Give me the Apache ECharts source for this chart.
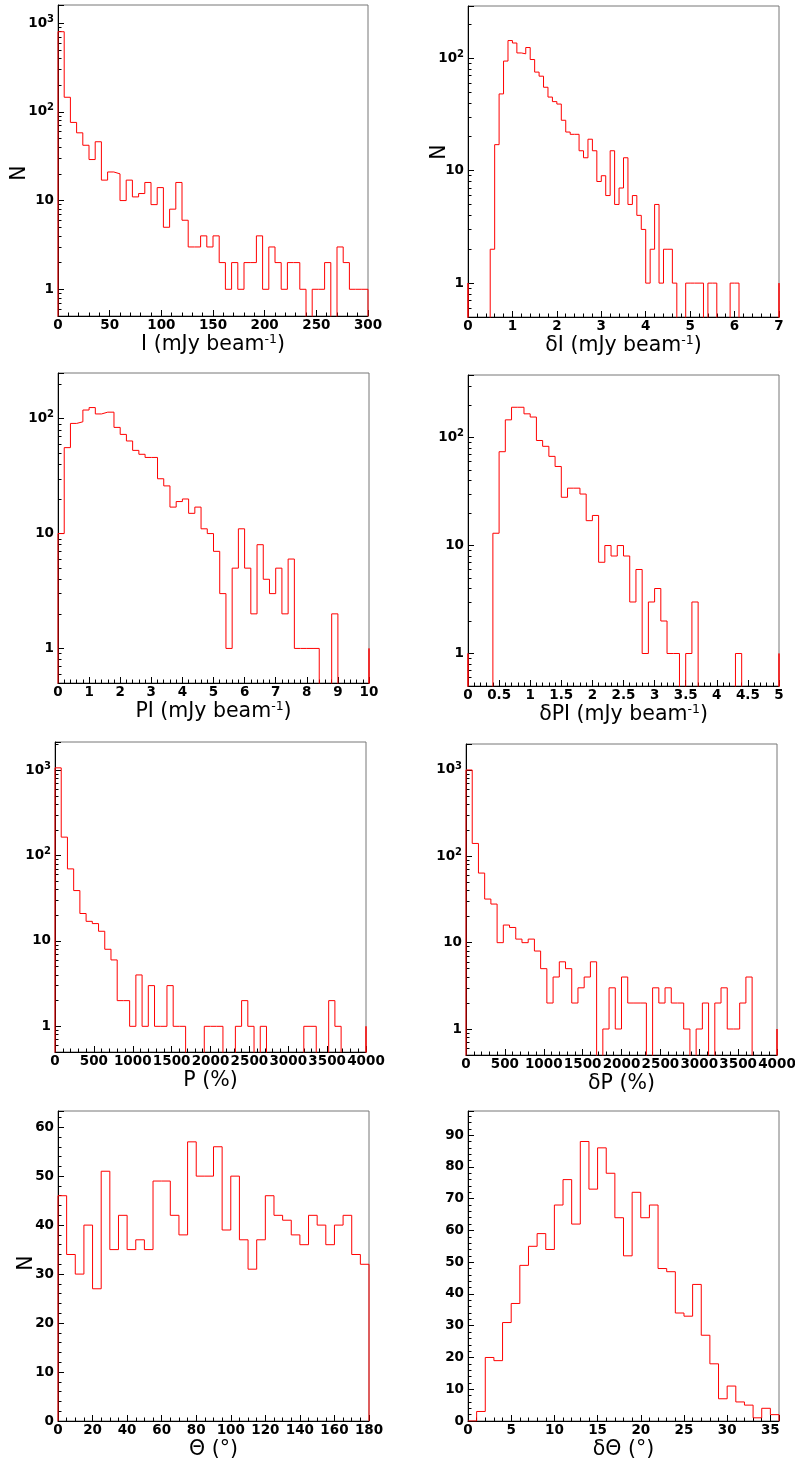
<!DOCTYPE html>
<html>
<head>
<meta charset="utf-8">
<title>histograms</title>
<script src="https://cdn.jsdelivr.net/npm/echarts@6/dist/echarts.min.js"></script>
<style>
  html, body { margin: 0; padding: 0; background: #fff; }
  #chart { width: 795px; height: 1466px; }
</style>
</head>
<body>
<div id="chart"></div>
<script>
// bin contents, low edge + bin width for each
var iBin = [0, 6];
var iCounts = [800, 146, 76, 58, 42, 29, 46, 17, 21, 20, 10, 17, 11, 12, 16, 9, 14, 5, 8, 16,
  6, 3, 3, 4, 3, 4, 2, 1, 2, 1, 2, 2, 4, 1, 3, 2, 1, 2, 2, 1, 0, 1, 1, 2, 0, 3, 2, 1, 1, 1];

var dIBin = [0, 0.1];
var dICounts = [0, 0, 0, 0, 0, 2, 17, 48, 94, 143, 136, 111, 109, 124, 97, 75, 69, 55, 45, 41,
  39, 28, 22, 21, 21, 15, 13, 19, 15, 8, 9, 6, 15, 5, 7, 13, 5, 6, 4, 3,
  1, 2, 5, 1, 2, 2, 1, 0, 0, 1, 1, 1, 1, 0, 1, 1, 0, 0, 0, 1, 1, 0, 0, 0, 0, 0, 0, 0, 0, 0];

var piBin = [0, 0.2];
var piCounts = [10, 56, 91, 94, 119, 125, 110, 114, 114, 84, 73, 64, 53, 49, 46, 46, 30, 26, 17, 19,
  20, 15, 17, 11, 10, 7, 3, 1, 5, 11, 5, 2, 8, 4, 3, 5, 2, 6, 1, 1, 1, 1, 0, 0, 2, 0, 0, 0, 0, 0];

var dPiBin = [0, 0.1];
var dPiCounts = [0, 0, 0, 0, 13, 74, 146, 191, 191, 166, 155, 94, 83, 67, 54, 28, 34, 34, 30, 17,
  19, 7, 10, 8, 10, 8, 3, 6, 1, 3, 4, 2, 1, 1, 0, 1, 3, 0, 0, 0, 0, 0, 0, 1, 0, 0, 0, 0, 0, 0];

var pBin = [0, 80];
var pCounts = [1070, 165, 70, 39, 21, 17, 16, 13, 8, 6, 2, 2, 1, 4, 1, 3, 1, 1, 3, 1,
  1, 0, 0, 0, 1, 1, 1, 0, 0, 1, 2, 1, 0, 1, 0, 0, 0, 0, 0, 0, 1, 1, 0, 0, 2, 1, 0, 0, 0, 0];

var dPBin = [0, 80];
var dPCounts = [1000, 141, 64, 32, 28, 10, 16, 15, 11, 10, 11, 8, 5, 2, 4, 6, 5, 2, 3, 4,
  6, 0, 1, 3, 1, 4, 2, 2, 2, 0, 3, 2, 3, 2, 2, 1, 0, 1, 2, 0, 2, 3, 1, 1, 2, 4, 0, 0, 0, 0];

var thetaBin = [0, 5];
var thetaCounts = [46, 34, 30, 40, 27, 51, 35, 42, 35, 37, 35, 49, 49, 42, 38, 57, 50, 50, 56, 39,
  50, 37, 31, 37, 46, 42, 41, 38, 36, 42, 40, 36, 40, 42, 34, 32];

var dThetaBin = [0, 1];
var dThetaCounts = [0, 3, 20, 19, 31, 37, 49, 55, 59, 54, 68, 76, 62, 88, 73, 86, 78, 64, 52, 72,
  64, 68, 48, 47, 34, 33, 43, 27, 18, 7, 11, 6, 5, 1, 4, 2];

// x axis: [min, max, label step, minor divisions]
var iAxis = [0, 300, 50, 5];
var dIAxis = [0, 7, 1, 5];
var piAxis = [0, 10, 1, 5];
var dPiAxis = [0, 5, 0.5, 5];
var pAxis = [0, 4000, 500, 5];
var dPAxis = [0, 4000, 500, 5];
var thetaAxis = [0, 180, 20, 4];
var dThetaAxis = [0, 36, 5, 5];

// y axis ranges
var iRange = [0.5, 1600];
var dIRange = [0.5, 290];
var piRange = [0.5, 250];
var dPiRange = [0.5, 380];
var pRange = [0.5, 2150];
var dPRange = [0.5, 2000];
var thetaRange = [0, 63.3];
var dThetaRange = [0, 97.6];

var xTitles = [
  ['I (mJy beam', '-1', ')'],
  ['δI (mJy beam', '-1', ')'],
  ['PI (mJy beam', '-1', ')'],
  ['δPI (mJy beam', '-1', ')'],
  ['P (%)'],
  ['δP (%)'],
  ['Θ (°)'],
  ['δΘ (°)']
];

var tickFont = 'DejaVu Sans';
var titleFont = 'DejaVu Sans';

var panels = [
  {bins: iBin, counts: iCounts, x: iAxis, y: iRange, log: true, rect: [58, 5, 310, 311], yName: [28, 25]},
  {bins: dIBin, counts: dICounts, x: dIAxis, y: dIRange, log: true, rect: [468, 6, 311, 311], yName: [18, -19]},
  {bins: piBin, counts: piCounts, x: piAxis, y: piRange, log: true, rect: [58, 373, 311, 310]},
  {bins: dPiBin, counts: dPiCounts, x: dPiAxis, y: dPiRange, log: true, rect: [468, 375, 311, 311]},
  {bins: pBin, counts: pCounts, x: pAxis, y: pRange, log: true, rect: [55, 742, 311, 310]},
  {bins: dPBin, counts: dPCounts, x: dPAxis, y: dPRange, log: true, rect: [466, 744, 311, 311]},
  {bins: thetaBin, counts: thetaCounts, x: thetaAxis, y: thetaRange, log: false, rect: [58, 1111, 311, 310], yName: [21, -6], yStep: 10},
  {bins: dThetaBin, counts: dThetaCounts, x: dThetaAxis, y: dThetaRange, log: false, rect: [468, 1111, 311, 310], yStep: 10}
];

// outline of a histogram, ROOT style: empty bins drop below the frame
function stepPoints(bins, counts, log) {
  var base = log ? 1 : 0,
      floor = log ? 0.1 : 0,
      lo = bins[0],
      w = bins[1],
      pts = [[lo, floor], [lo, base]];
  for (var i = 0; i < counts.length; i++) {
    var v = counts[i] > 0 ? counts[i] : floor;
    pts.push([lo + i * w, v], [lo + (i + 1) * w, v]);
  }
  var hi = lo + counts.length * w;
  pts.push([hi, base], [hi, floor]);
  return pts;
}

function logLabel(v) {
  var l = Math.log(v) / Math.LN10;
  var e = Math.round(l);
  if (Math.abs(l - e) > 1e-6 || e < 0) return '';
  if (e === 0) return '{b|1}';
  if (e === 1) return '{b|10}';
  return '{b|10}{s|' + e + '}';
}

function stepLabel(step) {
  return function(v) {
    var k = v / step;
    if (Math.abs(k - Math.round(k)) > 1e-6) return '';
    return String(+v.toFixed(6));
  };
}

function titleText(parts) {
  var s = '{t|' + parts[0] + '}';
  if (parts.length > 1) s += '{s|' + parts[1] + '}{t|' + parts[2] + '}';
  return s;
}

var labelRich = {
  b: {fontFamily: tickFont, fontWeight: 'bold', fontSize: 13.5, color: '#000', lineHeight: 18},
  s: {fontFamily: tickFont, fontWeight: 'bold', fontSize: 10, color: '#000', lineHeight: 10, verticalAlign: 'top'}
};

var titleRich = {
  t: {fontFamily: titleFont, fontSize: 20.5, color: '#000', lineHeight: 24},
  s: {fontFamily: titleFont, fontSize: 12.5, color: '#000', lineHeight: 12, verticalAlign: 'top'}
};

var grids = [], xAxes = [], yAxes = [], series = [];

panels.forEach(function(p, i) {
  grids.push({
    left: p.rect[0], top: p.rect[1], width: p.rect[2], height: p.rect[3],
    show: true, borderColor: '#777', borderWidth: 1, backgroundColor: 'transparent',
    containLabel: false, outerBoundsMode: 'none'
  });

  xAxes.push({
    type: 'value', gridIndex: i,
    min: p.x[0], max: p.x[1], interval: p.x[2],
    axisLine: {show: true, onZero: false, lineStyle: {color: '#000', width: 1}},
    axisTick: {show: true, inside: true, length: 6, lineStyle: {color: '#000', width: 1}},
    minorTick: {show: true, splitNumber: p.x[3], length: 3.5, lineStyle: {color: '#000', width: 1}},
    splitLine: {show: false},
    minorSplitLine: {show: false},
    axisLabel: {
      margin: 2, formatter: stepLabel(p.x[2]),
      fontFamily: tickFont, fontWeight: 'bold', fontSize: 13.5, color: '#000'
    },
    name: titleText(xTitles[i]),
    nameLocation: 'middle', nameGap: 17, nameMoveOverlap: false,
    nameTextStyle: {rich: titleRich}
  });

  var y = {
    type: p.log ? 'log' : 'value', gridIndex: i,
    min: p.y[0], max: p.y[1],
    axisLine: {show: true, onZero: false, lineStyle: {color: '#000', width: 1}},
    axisTick: {show: true, inside: true, length: 6, lineStyle: {color: '#000', width: 1}},
    minorTick: {show: true, splitNumber: p.log ? 9 : 5, length: 3.5, lineStyle: {color: '#000', width: 1}},
    splitLine: {show: false},
    minorSplitLine: {show: false},
    axisLabel: p.log
      ? {margin: 4, formatter: logLabel, rich: labelRich}
      : {margin: 4, formatter: stepLabel(p.yStep), fontFamily: tickFont, fontWeight: 'bold', fontSize: 13.5, color: '#000'}
  };
  if (p.log) y.logBase = 10;
  else y.interval = p.yStep;
  if (p.yName) {
    var pad = p.yName[1] > 0 ? [0, p.yName[1], 0, 0] : [0, 0, 0, -p.yName[1]];
    y.name = 'N';
    y.nameLocation = 'middle';
    y.nameGap = p.yName[0];
    y.nameMoveOverlap = false;
    y.nameTextStyle = {fontFamily: titleFont, fontSize: 20.5, color: '#000', padding: pad};
  }
  yAxes.push(y);

  series.push({
    type: 'line', xAxisIndex: i, yAxisIndex: i,
    data: stepPoints(p.bins, p.counts, p.log),
    symbol: 'none', showSymbol: false, clip: true,
    lineStyle: {color: '#ff0000', width: 1},
    z: 3
  });
});

var chart = echarts.init(document.getElementById('chart'), null, {renderer: 'canvas'});
chart.setOption({
  animation: false,
  backgroundColor: '#fff',
  grid: grids,
  xAxis: xAxes,
  yAxis: yAxes,
  series: series
});
</script>
</body>
</html>
